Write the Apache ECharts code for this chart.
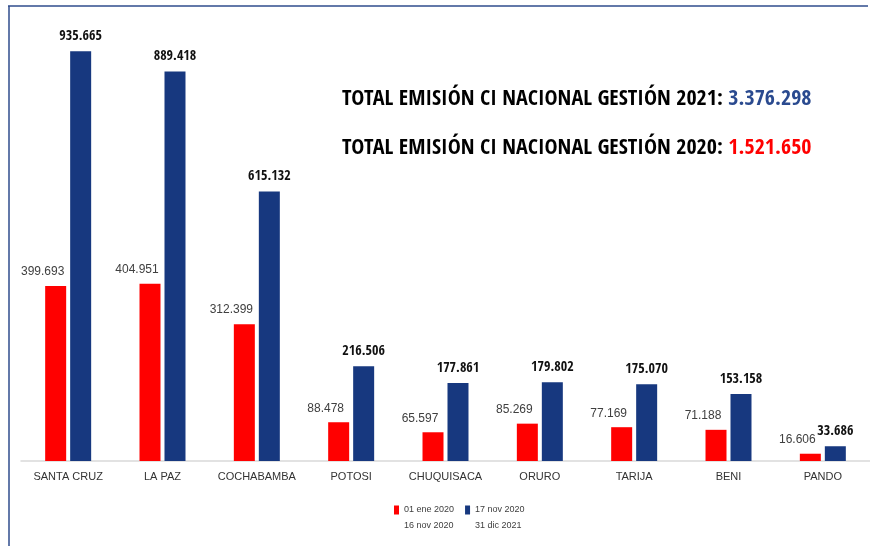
<!DOCTYPE html>
<html>
<head>
<meta charset="utf-8">
<script src="https://cdn.jsdelivr.net/npm/echarts@6/dist/echarts.min.js"></script>
<style>
    html, body { margin: 0; padding: 0; background: #fff; }
    #chart { width: 870px; height: 546px; }
</style>
</head>
<body>
<div id="chart"></div>
<script>
// departamentos
var categories = ['SANTA CRUZ', 'LA PAZ', 'COCHABAMBA', 'POTOSI', 'CHUQUISACA', 'ORURO', 'TARIJA', 'BENI', 'PANDO'];
// 01 ene 2020 - 16 nov 2020
var gestion2020 = [399693, 404951, 312399, 88478, 65597, 85269, 77169, 71188, 16606];
// 17 nov 2020 - 31 dic 2021
var gestion2021 = [935665, 889418, 615132, 216506, 177861, 179802, 175070, 153158, 33686];
var seriesNames = ['01 ene 2020\n16 nov 2020', '17 nov 2020\n31 dic 2021'];
var total2021 = '3.376.298';
var total2020 = '1.521.650';

function fmt(v) {
    return String(v).replace(/\B(?=(\d{3})+(?!\d))/g, '.');
}

// solo hay cara bold en la condensada
var boldNarrow = '"Open Sans Condensed", sans-serif';
var plain = '"Liberation Sans", Arial, sans-serif';

var chart = echarts.init(document.getElementById('chart'));
var option = {
    animation: false,
    backgroundColor: '#fff',
    color: ['#ff0000', '#17387f'],
    title: [
        {
            text: '{a|TOTAL EMISIÓN CI NACIONAL GESTIÓN 2021: }{b|' + total2021 + '}',
            left: 337,
            top: 83,
            textStyle: {
                rich: {
                    a: {fontFamily: boldNarrow, fontWeight: 'bold', fontSize: 22, color: '#000'},
                    b: {fontFamily: boldNarrow, fontWeight: 'bold', fontSize: 22, color: '#2a4a8f'}
                }
            }
        },
        {
            text: '{a|TOTAL EMISIÓN CI NACIONAL GESTIÓN 2020: }{b|' + total2020 + '}',
            left: 337,
            top: 132,
            textStyle: {
                rich: {
                    a: {fontFamily: boldNarrow, fontWeight: 'bold', fontSize: 22, color: '#000'},
                    b: {fontFamily: boldNarrow, fontWeight: 'bold', fontSize: 22, color: '#ff0000'}
                }
            }
        }
    ],
    legend: {
        data: seriesNames,
        left: 389,
        top: 481,
        itemWidth: 5,
        itemHeight: 9,
        itemGap: 11,
        icon: 'rect',
        // linea vacia arriba para que el icono quede junto a la primera linea
        formatter: function(name) { return ' \n' + name; },
        textStyle: {
            fontFamily: plain,
            fontSize: 9,
            color: '#404040',
            lineHeight: 16
        }
    },
    grid: {
        left: 21,
        right: -5,
        top: 23,
        bottom: 85
    },
    xAxis: {
        type: 'category',
        data: categories,
        axisTick: {show: false},
        axisLine: {lineStyle: {color: '#d9d9d9', width: 1.5}},
        axisLabel: {
            interval: 0,
            fontFamily: plain,
            fontSize: 11,
            color: '#333',
            margin: 10
        }
    },
    yAxis: {
        type: 'value',
        min: 0,
        max: 1000000,
        show: false,
        splitLine: {show: false}
    },
    series: [
        {
            name: seriesNames[0],
            type: 'bar',
            data: gestion2020,
            barWidth: 21,
            barGap: '19%',
            label: {
                show: true,
                position: 'top',
                distance: 8,
                offset: [-13, 0],
                fontFamily: plain,
                fontSize: 12,
                color: '#404040',
                formatter: function(p) { return fmt(p.value); }
            }
        },
        {
            name: seriesNames[1],
            type: 'bar',
            data: gestion2021,
            barWidth: 21,
            label: {
                show: true,
                position: 'top',
                distance: 8,
                fontFamily: boldNarrow,
                fontSize: 14,
                fontWeight: 'bold',
                color: '#111',
                formatter: function(p) { return fmt(p.value); }
            }
        }
    ],
    graphic: [
        {
            type: 'line',
            shape: {x1: 8, y1: 6, x2: 868, y2: 6},
            style: {stroke: '#2f4d8c', lineWidth: 1.5}
        },
        {
            type: 'line',
            shape: {x1: 9, y1: 6, x2: 9, y2: 546},
            style: {stroke: '#2f4d8c', lineWidth: 1.5}
        }
    ]
};
chart.setOption(option);
</script>
</body>
</html>
